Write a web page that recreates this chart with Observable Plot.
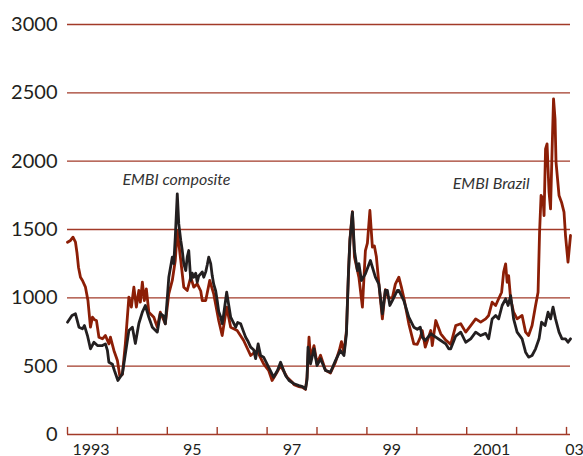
<!DOCTYPE html>
<html>
<head>
<meta charset="utf-8">
<script src="https://cdn.jsdelivr.net/npm/d3@7"></script>
<script src="https://cdn.jsdelivr.net/npm/@observablehq/plot@0.6"></script>
<style>
  html, body { margin: 0; padding: 0; background: #fff; }
  #chart svg { display: block; }
</style>
</head>
<body>
<div id="chart"></div>
<script>
// EMBI composite spread (basis points), time in decimal years
const compositeT = [1993.00,1993.09,1993.16,1993.23,1993.30,1993.34,1993.40,1993.46,1993.53,1993.60,1993.70,1993.76,1993.80,1993.83,1993.90,1993.94,1994.01,1994.10,1994.16,1994.23,1994.30,1994.36,1994.43,1994.50,1994.56,1994.63,1994.70,1994.80,1994.86,1994.92,1994.96,1995.00,1995.03,1995.10,1995.13,1995.16,1995.20,1995.23,1995.27,1995.30,1995.33,1995.37,1995.40,1995.43,1995.47,1995.50,1995.53,1995.57,1995.60,1995.63,1995.67,1995.70,1995.73,1995.77,1995.80,1995.83,1995.87,1995.90,1995.93,1995.97,1996.00,1996.03,1996.07,1996.10,1996.13,1996.19,1996.23,1996.27,1996.31,1996.37,1996.41,1996.47,1996.52,1996.57,1996.62,1996.67,1996.73,1996.77,1996.82,1996.87,1996.93,1997.03,1997.13,1997.21,1997.27,1997.37,1997.44,1997.54,1997.64,1997.71,1997.77,1997.80,1997.82,1997.87,1997.94,1998.00,1998.07,1998.17,1998.27,1998.37,1998.47,1998.54,1998.59,1998.63,1998.66,1998.71,1998.75,1998.81,1998.84,1998.89,1998.97,1999.07,1999.17,1999.24,1999.31,1999.37,1999.41,1999.46,1999.51,1999.61,1999.64,1999.74,1999.84,1999.94,2000.01,2000.07,2000.11,2000.17,2000.28,2000.38,2000.48,2000.58,2000.64,2000.68,2000.78,2000.88,2000.98,2001.08,2001.18,2001.28,2001.38,2001.44,2001.51,2001.58,2001.64,2001.71,2001.78,2001.83,2001.88,2001.94,2002.01,2002.11,2002.18,2002.24,2002.31,2002.38,2002.45,2002.50,2002.57,2002.63,2002.68,2002.73,2002.78,2002.85,2002.91,2002.98,2003.03,2003.08];
const compositeV = [822,871,883,785,773,797,724,627,675,651,651,663,615,529,514,468,395,444,590,761,785,666,812,895,944,858,785,749,883,870,810,1000,1150,1297,1250,1444,1761,1541,1420,1346,1250,1200,1300,1346,1127,1180,1151,1180,1114,1160,1176,1190,1151,1190,1240,1297,1250,1163,1100,1050,980,900,860,810,880,1041,950,858,830,785,820,810,760,712,680,639,620,555,663,578,566,493,419,470,529,432,395,371,358,350,334,400,639,517,627,505,554,468,456,541,615,578,737,1176,1420,1627,1346,1200,1250,1127,1176,1273,1151,1100,883,1054,1054,944,980,1054,1054,980,858,785,770,785,712,688,737,712,688,663,627,627,720,749,675,700,749,724,740,700,846,871,846,944,993,944,1017,846,749,700,602,566,578,627,700,822,797,895,846,932,846,749,700,700,675,700];

// EMBI Brazil spread (basis points)
const brazilT = [1993.00,1993.06,1993.11,1993.16,1993.19,1993.22,1993.26,1993.30,1993.36,1993.41,1993.46,1993.50,1993.54,1993.58,1993.63,1993.70,1993.76,1993.83,1993.86,1993.93,1994.00,1994.05,1994.10,1994.16,1994.23,1994.28,1994.33,1994.38,1994.43,1994.46,1994.50,1994.54,1994.58,1994.63,1994.73,1994.80,1994.86,1994.96,1995.03,1995.10,1995.16,1995.20,1995.27,1995.33,1995.40,1995.47,1995.53,1995.60,1995.67,1995.70,1995.77,1995.85,1995.93,1996.03,1996.10,1996.19,1996.27,1996.40,1996.53,1996.67,1996.80,1996.87,1996.93,1997.03,1997.10,1997.19,1997.27,1997.40,1997.51,1997.54,1997.64,1997.71,1997.77,1997.80,1997.84,1997.87,1997.94,1998.00,1998.07,1998.17,1998.27,1998.37,1998.45,1998.49,1998.54,1998.59,1998.63,1998.66,1998.71,1998.75,1998.81,1998.84,1998.91,1998.97,1999.01,1999.06,1999.11,1999.15,1999.19,1999.24,1999.31,1999.37,1999.43,1999.51,1999.57,1999.64,1999.69,1999.74,1999.84,1999.94,2000.01,2000.07,2000.11,2000.17,2000.28,2000.31,2000.38,2000.48,2000.58,2000.68,2000.78,2000.88,2000.98,2001.08,2001.18,2001.28,2001.38,2001.44,2001.51,2001.58,2001.64,2001.70,2001.74,2001.78,2001.81,2001.84,2001.88,2001.94,2002.01,2002.11,2002.18,2002.24,2002.31,2002.38,2002.43,2002.46,2002.49,2002.53,2002.55,2002.58,2002.61,2002.65,2002.68,2002.71,2002.74,2002.77,2002.79,2002.85,2002.90,2002.95,2002.98,2003.03,2003.08];
const brazilV = [1407,1420,1444,1407,1330,1224,1150,1127,1078,980,785,858,840,834,712,700,724,663,712,615,541,424,440,666,1005,932,1078,932,1054,968,1114,980,1066,895,858,785,895,810,1029,1127,1273,1493,1273,1078,1054,1151,1078,1102,1050,980,980,1127,1029,834,724,932,785,761,688,578,615,560,517,470,395,450,505,419,380,365,350,345,330,420,712,560,650,520,580,470,450,530,620,680,600,760,1180,1430,1630,1300,1200,1150,932,1346,1400,1639,1371,1380,1300,1102,846,1060,1000,1000,1100,1151,1080,1000,810,663,660,712,760,639,761,650,834,737,690,660,797,810,749,797,846,822,846,871,968,944,993,1041,1188,1249,1114,1163,993,895,846,871,749,724,797,944,1041,1480,1749,1724,1602,2090,2127,1773,1651,2066,2456,2310,1993,1749,1700,1627,1456,1261,1456];

// axes
const yTicks = [0, 500, 1000, 1500, 2000, 2500, 3000];
const yearTicks = [1993, 1994, 1995, 1996, 1997, 1998, 1999, 2000, 2001, 2002, 2003];
const xLabelPos = [1993.47, 1995.5, 1997.5, 1999.5, 2001.5, 2003.16];
const xLabelText = ["1993", "95", "97", "99", "2001", "03"];

// series labels
const seriesLabelText = ["EMBI composite", "EMBI Brazil"];
const seriesLabelT = [1994.10, 2000.72];
const seriesLabelV = [1822, 1800];

const ink = "#231f20";
const gridColor = "#a23a28";
const brazilColor = "#8c1e06";

const composite = compositeT.map((t, i) => ({t, v: compositeV[i]}));
const brazil = brazilT.map((t, i) => ({t, v: brazilV[i]}));
const xLabels = xLabelPos.map((t, i) => ({t, label: xLabelText[i]}));
const seriesLabels = seriesLabelText.map((label, i) => ({label, t: seriesLabelT[i], v: seriesLabelV[i]}));

const chart = Plot.plot({
  width: 583,
  height: 456,
  marginTop: 24,
  marginBottom: 22,
  marginLeft: 67,
  marginRight: 13,
  style: {fontFamily: "Lato, 'Open Sans', sans-serif", background: "#fff", color: ink},
  x: {domain: [1993, 2003.08], axis: null},
  y: {domain: [0, 3000], axis: null},
  marks: [
    Plot.ruleY(yTicks, {stroke: gridColor, strokeWidth: 1.4}),
    Plot.ruleX(yearTicks, {y1: 0, y2: 52, stroke: gridColor, strokeWidth: 1.4}),
    Plot.axisY(yTicks, {tickSize: 0, tickPadding: 10, fontSize: 20, label: null, tickFormat: d => String(d), color: ink}),
    Plot.text(xLabels, {x: "t", y: () => 0, text: "label", lineAnchor: "bottom", dy: 20, fontSize: 16, fill: ink}),
    Plot.line(brazil, {x: "t", y: "v", stroke: brazilColor, strokeWidth: 2.8, strokeLinejoin: "round"}),
    Plot.line(composite, {x: "t", y: "v", stroke: ink, strokeWidth: 2.8, strokeLinejoin: "round"}),
    Plot.text(seriesLabels, {x: "t", y: "v", text: "label", textAnchor: "start", lineAnchor: "bottom", fontSize: 16, fontStyle: "italic", fill: "#333"})
  ]
});
document.getElementById("chart").appendChild(chart);
</script>
</body>
</html>
